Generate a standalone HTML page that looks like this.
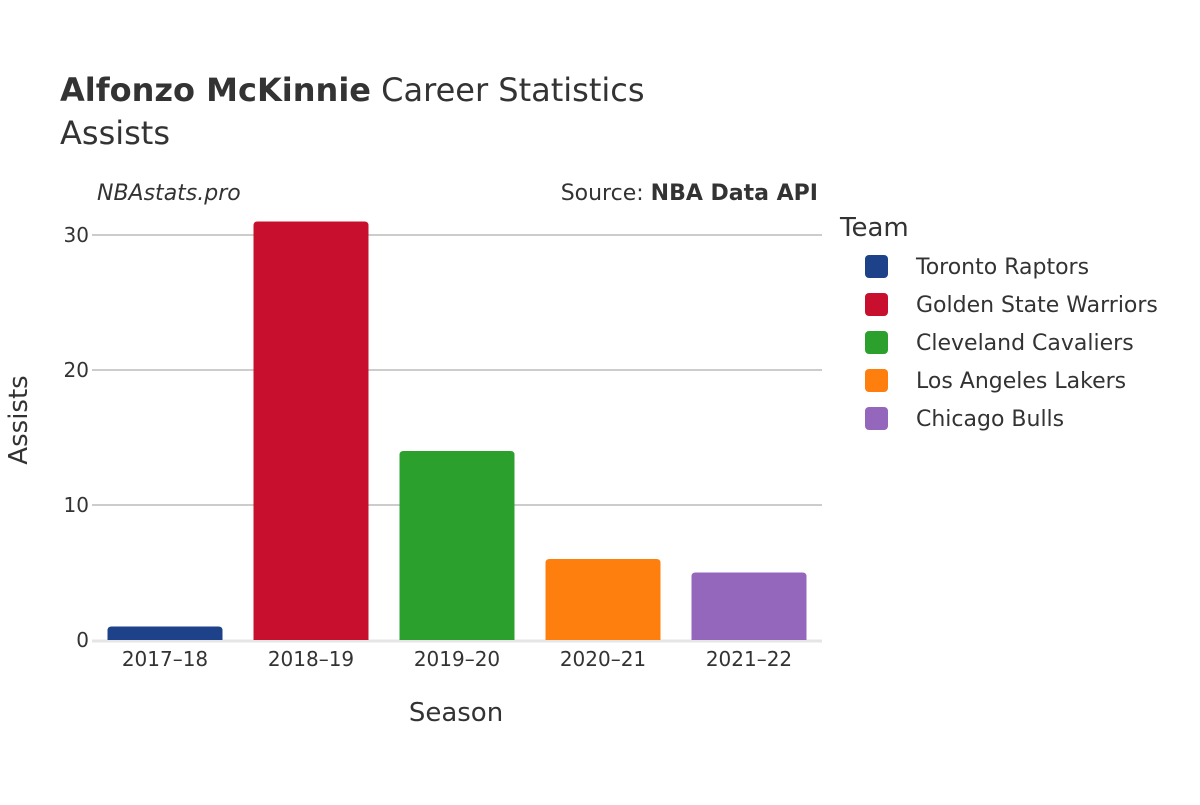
<!DOCTYPE html>
<html><head><meta charset="utf-8"><style>
body{margin:0;background:#fff}
svg text{font-family:"DejaVu Sans","Liberation Sans",sans-serif;fill:#333}
</style></head><body>
<svg width="1200" height="800" viewBox="0 0 1200 800">
<rect width="1200" height="800" fill="#fff"/>
<text x="60" y="101" font-size="32"><tspan font-weight="bold">Alfonzo McKinnie</tspan> Career Statistics</text>
<text x="60" y="144" font-size="32">Assists</text>
<text x="97" y="200" font-size="22" font-style="italic">NBAstats.pro</text>
<text x="818" y="200" font-size="22" text-anchor="end">Source: <tspan font-weight="bold">NBA Data API</tspan></text>
<g id="grid"></g>
<g id="bars"></g>
<g id="xticks"></g>
<text x="456" y="721" font-size="26" text-anchor="middle">Season</text>
<text transform="translate(27,420) rotate(-90)" font-size="26" text-anchor="middle">Assists</text>
<text x="840" y="236" font-size="26">Team</text>
<g id="legend"></g>
</svg>
<script>
const seasons=["2017–18","2018–19","2019–20","2020–21","2021–22"];
const teams=["Toronto Raptors","Golden State Warriors","Cleveland Cavaliers","Los Angeles Lakers","Chicago Bulls"];
const assists=[1,31,14,6,5];
const colors=["#1d428a","#c8102e","#2ca02c","#ff7f0e","#9467bd"];
const yTicks=[0,10,20,30];
const NS="http://www.w3.org/2000/svg";
const x0=92,x1=822,y0=640,pxPer=13.5;
const band=(x1-x0)/seasons.length;
const y=v=>y0-v*pxPer;
const xc=i=>x0+band*(i+0.5);
function mk(t,a){const e=document.createElementNS(NS,t);for(const k in a)e.setAttribute(k,a[k]);return e;}
const grid=document.getElementById('grid');
yTicks.forEach(v=>{
 if(v>0){const l=mk('line',{x1:x0,x2:x1,y1:y(v),y2:y(v),stroke:'#999','stroke-width':1});
 
 grid.appendChild(l);}
 const t=mk('text',{x:x0-3,y:y(v)+7,'font-size':20,'text-anchor':'end'});t.textContent=v;
 
 grid.appendChild(t);
});
const zl=mk('line',{x1:x0,x2:x1,y1:y0+1,y2:y0+1,stroke:'#e5e5e5','stroke-width':3});

grid.appendChild(zl);
const bars=document.getElementById('bars');
const bw=115,r=4;
assists.forEach((v,i)=>{
 const L=xc(i)-bw/2,R=L+bw,T=y(v),B=y0;
 const rr=Math.min(r,(B-T)/2);
 const p=mk('path',{d:`M${L},${B}V${T+rr}Q${L},${T} ${L+rr},${T}H${R-rr}Q${R},${T} ${R},${T+rr}V${B}Z`,fill:colors[i]});
 
 bars.appendChild(p);
});
const xt=document.getElementById('xticks');
seasons.forEach((s,i)=>{
 const t=mk('text',{x:xc(i),y:666,'font-size':20,'text-anchor':'middle'});t.textContent=s;
 
 xt.appendChild(t);
});
const lg=document.getElementById('legend');
teams.forEach((tm,i)=>{
 const g=mk('g',{});
 
 
 g.appendChild(mk('rect',{x:865,y:255+i*38,width:23,height:23,rx:4,fill:colors[i]}));
 const t=mk('text',{x:916,y:274+i*38,'font-size':22});t.textContent=tm;g.appendChild(t);
 lg.appendChild(g);
});
</script>
</body></html>
